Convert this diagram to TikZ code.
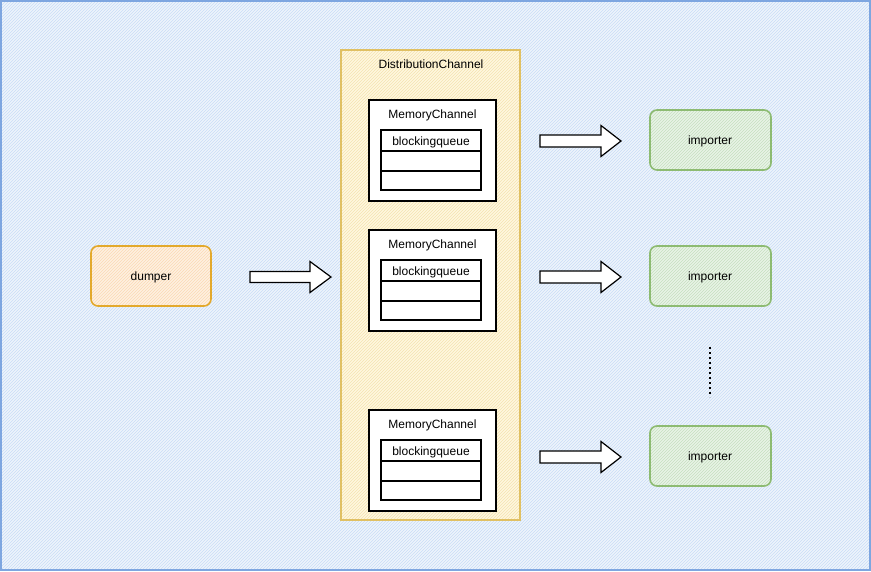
\documentclass[tikz,border=0pt]{standalone}
\usepackage{fontspec}
\setmainfont{Liberation Sans}
\usetikzlibrary{patterns}
\definecolor{bgfill}{HTML}{EEF4FC}
\definecolor{bghatch}{HTML}{C9DCF6}
\definecolor{bgline}{HTML}{7EA6E0}
\definecolor{yfill}{HTML}{FFF7DE}
\definecolor{yhatch}{HTML}{F3E3B0}
\definecolor{yline}{HTML}{E0C063}
\definecolor{ofill}{HTML}{FFF0E0}
\definecolor{ohatch}{HTML}{FAD9B5}
\definecolor{oline}{HTML}{E3A92C}
\definecolor{gfill}{HTML}{E8F3E6}
\definecolor{ghatch}{HTML}{C5DFC0}
\definecolor{gline}{HTML}{8DBB72}
\tikzset{
  txt/.style={font=\fontsize{12}{14}\selectfont, text=black, inner sep=0pt},
  bgbox/.style={draw=bgline, line width=1.2pt, preaction={fill=bgfill}, pattern=north east lines, pattern color=bghatch},
  ybox/.style={draw=yline, line width=1.2pt, preaction={fill=yfill}, pattern=north east lines, pattern color=yhatch},
  obox/.style={draw=oline, line width=1.6pt, rounded corners=7pt, preaction={fill=ofill}, pattern=north east lines, pattern color=ohatch},
  gbox/.style={draw=gline, line width=1.6pt, rounded corners=7pt, preaction={fill=gfill}, pattern=north east lines, pattern color=ghatch},
  mbox/.style={draw=black, line width=1.3pt, fill=white},
  blockarrow/.style={draw=black, line width=1.2pt, fill=white, line join=miter},
}
\newcommand{\blkarrow}[5]{% x0, xh, x1, y, shafthalf
  \draw[blockarrow] (#1,#4-#5) -- (#2,#4-#5) -- (#2,#4-15.5) -- (#3,#4) -- (#2,#4+15.5) -- (#2,#4+#5) -- (#1,#4+#5) -- cycle;}
\newcommand{\memch}[3]{% name, top y, table top y
  \draw[mbox] (369,#2) rectangle (496,#2+101);
  \node[txt] (#1t) at (432.5,#2+15) {MemoryChannel};
  \draw[mbox] (381,#3) rectangle (481,#3+60);
  \draw[black, line width=1.3pt] (381,#3+21) -- (481,#3+21);
  \draw[black, line width=1.3pt] (381,#3+41) -- (481,#3+41);
  \node[txt] (#1q) at (431,#3+12) {blockingqueue};}
\begin{document}
\begin{tikzpicture}[x=1pt,y=-1pt]
\useasboundingbox (0,0) rectangle (871,571);
\draw[bgbox] (1,1) rectangle (870,570);
% distribution channel
\draw[ybox] (341,50) rectangle (520,520);
\node[txt] (dc) at (431,64) {DistributionChannel};
\memch{m1}{100}{130}
\memch{m2}{230}{260}
\memch{m3}{410}{440}
% dumper
\draw[obox] (91,246) rectangle (211,306);
\node[txt] (dumper) at (151,277) {dumper};
% importers
\draw[gbox] (650,110) rectangle (771,170);
\node[txt] (imp1) at (710,141) {importer};
\draw[gbox] (650,246) rectangle (771,306);
\node[txt] (imp2) at (710,277) {importer};
\draw[gbox] (650,426) rectangle (771,486);
\node[txt] (imp3) at (710,457) {importer};
% arrows
\blkarrow{250}{310}{331}{277}{5.5}
\blkarrow{540}{601}{621}{141}{6}
\blkarrow{540}{601}{621}{277}{6}
\blkarrow{540}{601}{621}{457}{6}
% dots
\coordinate (d1) at (710,347);
\coordinate (d2) at (710,397);
\draw[black, line width=2pt, dash pattern=on 2pt off 3pt] (d1) -- (d2);
\end{tikzpicture}
\end{document}
